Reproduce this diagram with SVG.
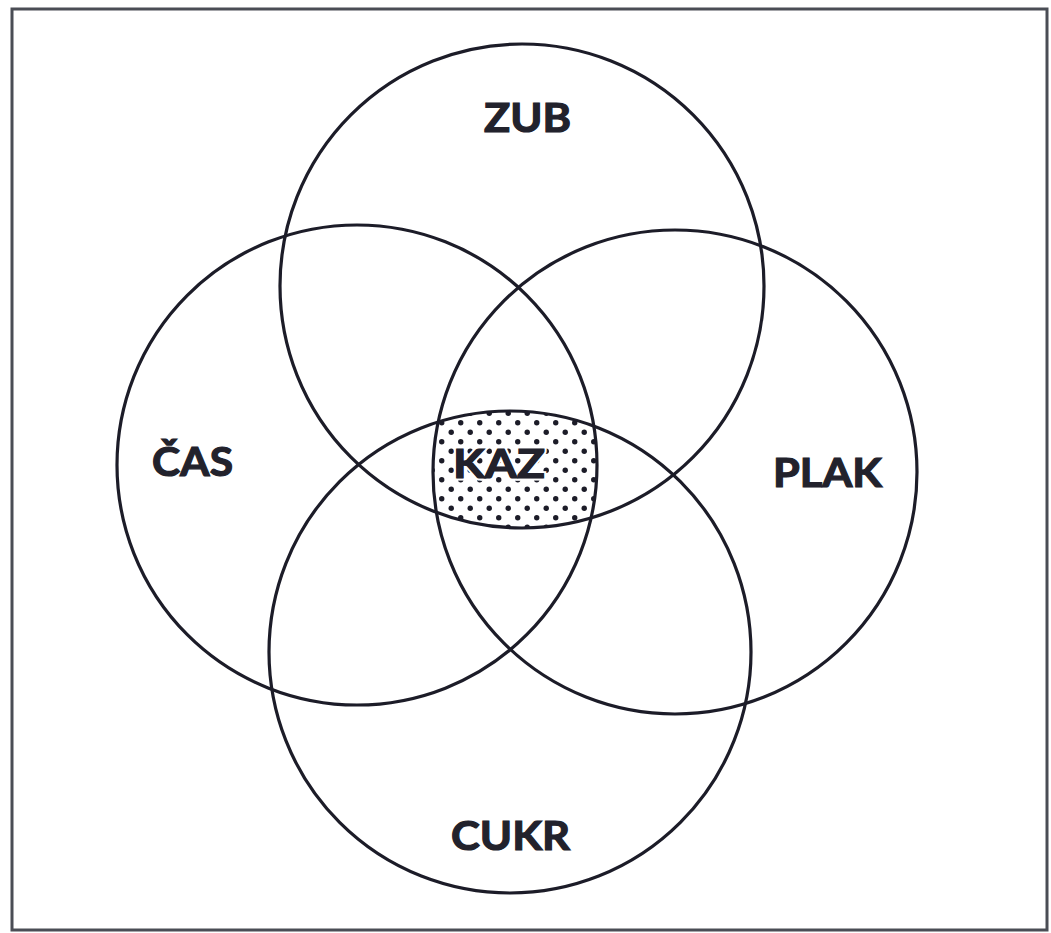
<svg xmlns="http://www.w3.org/2000/svg" width="1051" height="933" viewBox="0 0 1051 933">
  <style>
    .ring { fill: none; stroke: #1c1c28; stroke-width: 3.2; }
    .lbl { font-family: Lato, "Open Sans", "DejaVu Sans", sans-serif; font-weight: 700; font-size: 41px; fill: #22222c; stroke: #22222c; stroke-width: 1.2; text-anchor: middle; }
    .frame { fill: none; stroke: #4a4d55; stroke-width: 3; }
  </style>
  <defs>
    <pattern id="dots" x="0" y="0" width="19" height="19" patternUnits="userSpaceOnUse">
      <circle cx="4.75" cy="4.75" r="2.7" fill="#1c1c28"/>
      <circle cx="14.25" cy="14.25" r="2.7" fill="#1c1c28"/>
    </pattern>
    <clipPath id="cZub"><circle cx="522" cy="286" r="242"/></clipPath>
    <clipPath id="cCas"><circle cx="357" cy="465" r="240"/></clipPath>
    <clipPath id="cPlak"><circle cx="675" cy="472" r="242"/></clipPath>
    <clipPath id="cCukr"><circle cx="510" cy="652" r="241"/></clipPath>
  </defs>
  <rect x="0" y="0" width="1051" height="933" fill="#ffffff"/>
  <rect class="frame" x="12" y="9" width="1035" height="921"/>

  <g id="kaz-region" clip-path="url(#cZub)">
    <g clip-path="url(#cCas)">
      <g clip-path="url(#cPlak)">
        <g clip-path="url(#cCukr)">
          <rect x="400" y="390" width="240" height="160" fill="url(#dots)"/>
        </g>
      </g>
    </g>
  </g>

  <g id="zub">
    <circle class="ring" cx="522" cy="286" r="242"/>
    <text class="lbl" x="527.5" y="132" textLength="87" lengthAdjust="spacingAndGlyphs">ZUB</text>
  </g>
  <g id="cas">
    <circle class="ring" cx="357" cy="465" r="240"/>
    <text class="lbl" x="192.5" y="476" textLength="81" lengthAdjust="spacingAndGlyphs">ČAS</text>
  </g>
  <g id="plak">
    <circle class="ring" cx="675" cy="472" r="242"/>
    <text class="lbl" x="827.5" y="487" textLength="109" lengthAdjust="spacingAndGlyphs">PLAK</text>
  </g>
  <g id="cukr">
    <circle class="ring" cx="510" cy="652" r="241"/>
    <text class="lbl" x="510.5" y="850" textLength="119" lengthAdjust="spacingAndGlyphs">CUKR</text>
  </g>
  <g id="kaz">
    <text x="499" y="478" textLength="92" lengthAdjust="spacingAndGlyphs" font-family="Lato, 'Open Sans', 'DejaVu Sans', sans-serif" font-weight="700" font-size="41" text-anchor="middle" fill="#22222c" stroke="#ffffff" stroke-width="5" paint-order="stroke">KAZ</text>
    <text class="lbl" x="499" y="478" textLength="92" lengthAdjust="spacingAndGlyphs">KAZ</text>
  </g>
  <g id="connectors"></g>
</svg>
